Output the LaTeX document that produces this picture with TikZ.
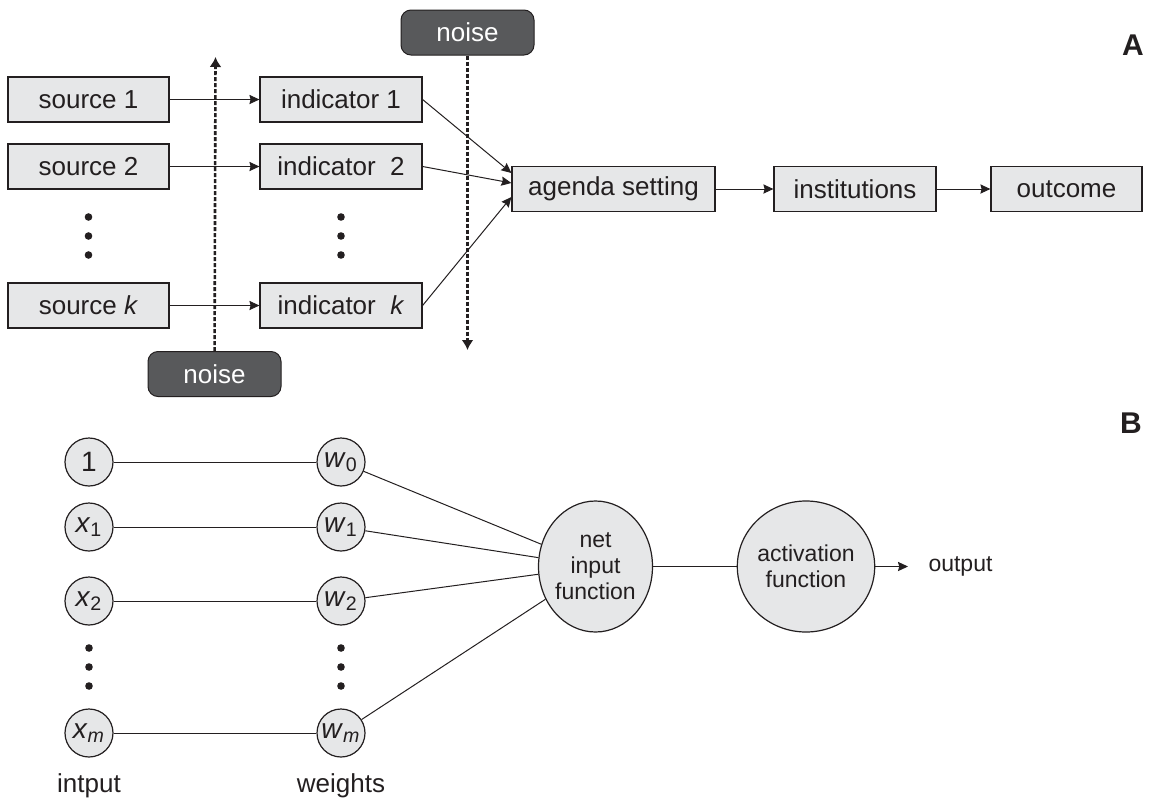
\documentclass[tikz,border=0pt]{standalone}
\usepackage{fontspec}
\setmainfont{Liberation Sans}
\usetikzlibrary{arrows.meta,shapes.geometric}

\definecolor{boxgray}{RGB}{230,231,232}
\definecolor{noisegray}{RGB}{88,89,91}
\definecolor{ink}{RGB}{35,31,32}

\def\kante#1#2{
	\draw[->] #1 -- #2;
}
\def\linie#1#2{
	\draw #1 -- #2;
}

\begin{document}
\begin{tikzpicture}[x=0.5pt,y=-0.5pt,ink,line width=0.5pt,
	>={Stealth[length=5pt,width=4.6pt,inset=0.6pt]},
	font=\fontsize{13pt}{15.6pt}\selectfont,
	box/.style={draw=ink,fill=boxgray,minimum height=22.5pt,inner sep=0pt,line width=0.6pt},
	noisebox/.style={draw=ink,fill=noisegray,text=white,rounded corners=5pt,
		minimum width=66.5pt,minimum height=22.5pt,inner sep=0pt},
	noisearrow/.style={-{Latex[length=5pt,width=6pt]},line width=1.3pt,dash pattern=on 2pt off 1pt},
	dot/.style={circle,fill=ink,inner sep=0pt,minimum size=3.8pt},
	neuron/.style={circle,draw=ink,fill=boxgray,minimum size=24pt,inner sep=0pt,line width=0.6pt,
		font=\fontsize{14pt}{16pt}\selectfont},
	unit/.style={ellipse,draw=ink,fill=boxgray,minimum width=57pt,minimum height=65.5pt,
		inner sep=0pt,align=center,line width=0.6pt,font=\fontsize{11.5pt}{13pt}\selectfont}]
\useasboundingbox (0,0) rectangle (1151,798);

% part A
\node[box,minimum width=80.5pt] (src1) at (88.5,99.5) {source 1};
\node[box,minimum width=80.5pt] (src2) at (88.5,166.5) {source 2};
\node[box,minimum width=80.5pt] (srck) at (88.5,305.5) {source \textit{k}};
\node[box,minimum width=81pt] (ind1) at (341,99.5) {indicator 1};
\node[box,minimum width=81pt] (ind2) at (341,166.5) {indicator\ \ 2};
\node[box,minimum width=81pt] (indk) at (341,305.5) {indicator\ \ \textit{k}};
\node[box,minimum width=101.5pt] (agenda) at (613.5,189) {agenda setting};
\node[box,minimum width=81pt] (inst) at (855,189) {institutions};
\node[box,minimum width=75.5pt] (outc) at (1066.5,189) {outcome};
\foreach \x/\n in {88.5/s,341/i}
	\foreach \y [count=\k] in {217,236,255}
		\node[dot] (dot\n\k) at (\x,\y) {};
\node[noisebox] (noiseA) at (467.5,32.5) {noise};
\node[noisebox] (noiseB) at (214.5,374) {noise};
\coordinate (noiseAend) at (467.5,350);
\coordinate (noiseBend) at (215.5,57);
\kante{(src1)}{(ind1)}
\kante{(src2)}{(ind2)}
\kante{(srck)}{(indk)}
\kante{(ind1.east)}{([yshift=8pt]agenda.west)}
\kante{(ind2.east)}{([yshift=3pt]agenda.west)}
\kante{(indk.east)}{([yshift=-4pt]agenda.west)}
\kante{(agenda)}{(inst)}
\kante{(inst)}{(outc)}
\draw[noisearrow] (noiseA) -- (noiseAend);
\draw[noisearrow] (noiseB) -- (noiseBend);
\node[font=\fontsize{15pt}{18pt}\selectfont\bfseries,anchor=base] (labA) at (1133,55) {A};

% part B
\node[font=\fontsize{15pt}{18pt}\selectfont\bfseries,anchor=base] (labB) at (1131,433) {B};
\node[neuron] (x0) at (89,462) {1};
\node[neuron] (x1) at (89,527) {\textit{x}\textsubscript{1}};
\node[neuron] (x2) at (89,601) {\textit{x}\textsubscript{2}};
\node[neuron] (xm) at (89,733) {\textit{x}\textsubscript{\textit{m}}};
\node[neuron] (w0) at (341,462) {\textit{w}\textsubscript{0}};
\node[neuron] (w1) at (341,527) {\textit{w}\textsubscript{1}};
\node[neuron] (w2) at (341,601) {\textit{w}\textsubscript{2}};
\node[neuron] (wm) at (341,733) {\textit{w}\textsubscript{\textit{m}}};
\foreach \x/\n in {89/x,341/w}
	\foreach \y [count=\k] in {648,667,686}
		\node[dot] (dot\n\k) at (\x,\y) {};
\node[unit] (net) at (595.5,566.5) {net\\input\\function};
\node[unit] (act) at (806,566.5) {activation\\function};
\node[anchor=west,inner sep=2pt,font=\fontsize{11.5pt}{13pt}\selectfont] (out) at (924,566.5) {output};
\node[anchor=base] (intp) at (89,792) {intput};
\node[anchor=base] (wts) at (341,792) {weights};
\linie{(x0)}{(w0)}
\linie{(x1)}{(w1)}
\linie{(x2)}{(w2)}
\linie{(xm)}{(wm)}
\linie{(w0)}{(net)}
\linie{(w1)}{(net)}
\linie{(w2)}{(net)}
\linie{(wm)}{(net)}
\linie{(net)}{(act)}
\draw[->,shorten >=8pt] (act) -- (out);
\end{tikzpicture}
\end{document}
